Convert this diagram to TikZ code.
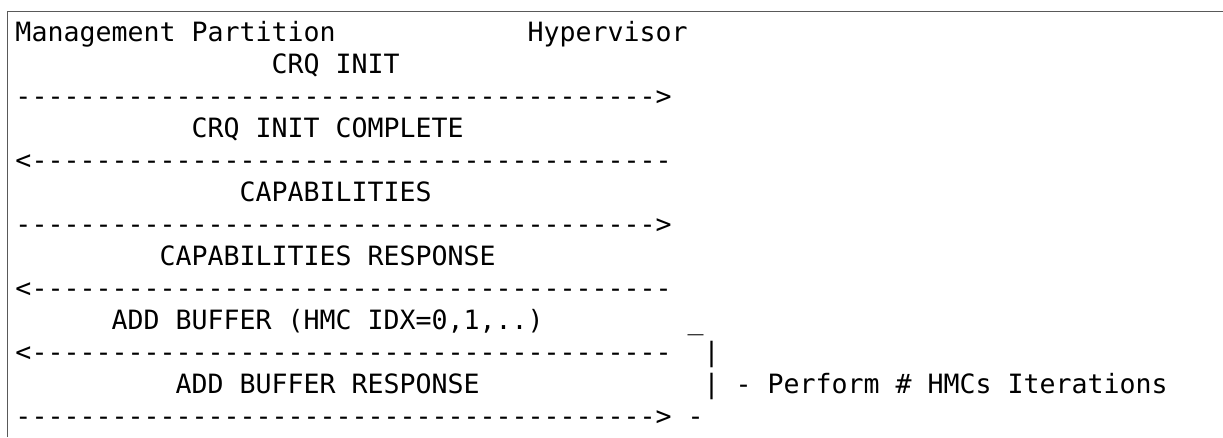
\documentclass[tikz,border=0pt]{standalone}
\usepackage{fontspec}
\setmonofont{DejaVu Sans Mono}
\newcommand\dashrun{----------------------------------------}
\begin{document}
\begin{tikzpicture}[x=1pt,y=-1pt,
  ln/.style={anchor=base west, inner sep=0pt, outer sep=0pt,
             font=\ttfamily\fontsize{26.58}{32}\selectfont, text=black},
  frame/.style={draw=black!65, line width=1.3pt}]
\useasboundingbox (0,0) rectangle (1223,437);
\draw[frame] (7.3,437) -- (7.3,11.7) -- (1223,11.7);
% column c -> x = 15.5 + 16 c ; line i -> baseline y = 41 + 32.07 (i-1)
\node[ln] (mp)   at ({15.5+16*0},  {41+32.07*0})  {Management Partition};
\node[ln] (hv)   at ({15.5+16*32}, {41+32.07*0})  {Hypervisor};
\node[ln] (l2)   at ({15.5+16*16}, {41+32.07*1})  {CRQ INIT};
\node[ln] (a3)   at ({15.5+16*0},  {41+32.07*2})  {\dashrun>};
\node[ln] (l4)   at ({15.5+16*11}, {41+32.07*3})  {CRQ INIT COMPLETE};
\node[ln] (a5)   at ({15.5+16*0},  {41+32.07*4})  {<\dashrun};
\node[ln] (l6)   at ({15.5+16*14}, {41+32.07*5})  {CAPABILITIES};
\node[ln] (a7)   at ({15.5+16*0},  {41+32.07*6})  {\dashrun>};
\node[ln] (l8)   at ({15.5+16*9},  {41+32.07*7})  {CAPABILITIES RESPONSE};
\node[ln] (a9)   at ({15.5+16*0},  {41+32.07*8})  {<\dashrun};
\node[ln] (l10)  at ({15.5+16*6},  {41+32.07*9})  {ADD BUFFER (HMC IDX=0,1,..)};
\node[ln] (u10)  at ({15.5+16*42}, {41+32.07*9})  {\_};
\node[ln] (a11)  at ({15.5+16*0},  {41+32.07*10}) {<\dashrun};
\node[ln] (b11)  at ({15.5+16*43}, {41+32.07*10}) {|};
\node[ln] (l12)  at ({15.5+16*10}, {41+32.07*11}) {ADD BUFFER RESPONSE};
\node[ln] (b12)  at ({15.5+16*43}, {41+32.07*11}) {|};
\node[ln] (n12)  at ({15.5+16*45}, {41+32.07*11}) {- Perform \# HMCs Iterations};
\node[ln] (a13)  at ({15.5+16*0},  {41+32.07*12}) {\dashrun>};
\node[ln] (d13)  at ({15.5+16*42}, {41+32.07*12}) {-};
\end{tikzpicture}
\end{document}
